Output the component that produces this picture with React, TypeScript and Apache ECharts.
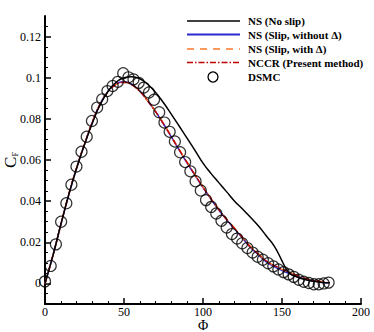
import React, { useEffect, useRef } from "react";
import * as echarts from "echarts";

const phiLines = [0, 5, 10, 15, 20, 25, 30, 35, 40, 45, 50, 55, 60, 65, 70, 75, 80, 85, 90, 95, 100, 105, 110, 115, 120, 125, 130, 135, 140, 145, 150, 155, 160, 165, 170, 175, 180];
const cfSlipNoDelta = [0, 0.0135, 0.0285, 0.043, 0.056, 0.0675, 0.0785, 0.0875, 0.0935, 0.0972, 0.098, 0.0968, 0.0935, 0.0888, 0.0835, 0.0775, 0.0712, 0.0648, 0.0585, 0.0525, 0.0466, 0.041, 0.0357, 0.0309, 0.0265, 0.022, 0.0175, 0.014, 0.0105, 0.0082, 0.0063, 0.0047, 0.0032, 0.002, 0.0012, 0.0006, 0.0003];
const cfSlipDelta = [0, 0.0135, 0.0285, 0.0432, 0.0562, 0.0677, 0.0785, 0.0873, 0.0932, 0.0968, 0.0978, 0.0966, 0.0934, 0.0888, 0.0836, 0.0777, 0.0714, 0.065, 0.0588, 0.0528, 0.0469, 0.0413, 0.036, 0.0312, 0.0268, 0.0224, 0.0179, 0.0144, 0.011, 0.0087, 0.0068, 0.0052, 0.0036, 0.0023, 0.0014, 0.0008, 0.0004];
const cfNccr = [0, 0.0136, 0.0287, 0.0433, 0.0563, 0.0678, 0.0786, 0.0873, 0.0931, 0.0967, 0.0977, 0.0965, 0.0933, 0.0887, 0.0835, 0.0776, 0.0713, 0.0649, 0.0587, 0.0527, 0.0468, 0.0412, 0.0359, 0.0311, 0.0267, 0.0223, 0.0178, 0.0143, 0.011, 0.0088, 0.007, 0.0054, 0.0038, 0.0024, 0.0015, 0.0008, 0.0004];

const phiNoSlip = [0, 5, 10, 15, 20, 25, 30, 35, 40, 45, 50, 55, 60, 65, 70, 75, 80, 85, 90, 95, 100, 105, 110, 115, 120, 125, 130, 135, 140, 145, 150, 152.5, 155, 160, 165, 170, 175, 180];
const cfNoSlip = [0, 0.0135, 0.0285, 0.043, 0.056, 0.0675, 0.078, 0.087, 0.0935, 0.0978, 0.1, 0.1005, 0.0995, 0.0968, 0.0928, 0.0878, 0.0822, 0.0764, 0.0705, 0.0646, 0.0585, 0.0535, 0.049, 0.0445, 0.04, 0.0362, 0.0322, 0.028, 0.0232, 0.0183, 0.011, 0.0072, 0.0048, 0.003, 0.0018, 0.001, 0.0005, 0.0003];

const phiDsmc = [0, 3.6, 6.9, 10.2, 13.5, 16.7, 19.9, 23.1, 26.4, 29.7, 33.0, 36.2, 39.5, 42.8, 46.1, 49.5, 52.8, 56.0, 59.3, 62.5, 65.8, 69.0, 72.3, 75.6, 78.9, 82.2, 85.5, 88.7, 92.0, 95.3, 98.6, 101.9, 105.2, 108.4, 111.7, 115.0, 118.3, 121.6, 124.8, 128.1, 131.4, 134.6, 137.9, 141.2, 144.5, 147.7, 151.0, 154.2, 157.4, 160.6, 163.8, 167.0, 170.2, 173.3, 176.4, 179.5];
const cfDsmc = [0.001, 0.0085, 0.019, 0.030, 0.039, 0.048, 0.0568, 0.064, 0.0713, 0.079, 0.0855, 0.0895, 0.0935, 0.096, 0.098, 0.1022, 0.1002, 0.0992, 0.0975, 0.0952, 0.0928, 0.0893, 0.0832, 0.0782, 0.0737, 0.069, 0.0638, 0.059, 0.0545, 0.0497, 0.0452, 0.0405, 0.0372, 0.034, 0.0305, 0.0272, 0.024, 0.0218, 0.0195, 0.0172, 0.015, 0.013, 0.0115, 0.0098, 0.0083, 0.0068, 0.0055, 0.0044, 0.0032, 0.0018, 0.0008, 0.0002, -0.0004, -0.0004, 0.0, 0.0004];

const yMajorTicks = [0, 0.02, 0.04, 0.06, 0.08, 0.1, 0.12];
const yMinorTicks = [-0.005, 0.005, 0.01, 0.015, 0.025, 0.03, 0.035, 0.045, 0.05, 0.055, 0.065, 0.07, 0.075, 0.085, 0.09, 0.095, 0.105, 0.11, 0.115, 0.125];

const legendNames = ["NS (No slip)", "NS (Slip, without Δ)", "NS (Slip, with Δ)", "NCCR (Present method)", "DSMC"];

const FONT = "'Liberation Serif', 'Times New Roman', serif";

function pairs(xs: number[], ys: number[]) {
  return xs.map((x, i) => [x, ys[i]]);
}

export default function App() {
  const ref = useRef<HTMLDivElement>(null);
  useEffect(() => {
    if (!ref.current) return;
    const chart = echarts.init(ref.current, null, { renderer: "svg" });
    const legendStyles = [
      { stroke: "#000000", dash: null as any, width: 1.6 },
      { stroke: "#2a2ad0", dash: null as any, width: 1.8 },
      { stroke: "#ff7a2a", dash: [7, 6], width: 1.6 },
      { stroke: "#c00000", dash: [6, 2, 1.5, 2], width: 1.6 },
    ];
    const rowsY = [21, 34.5, 49, 62.5, 77];
    const graphics: any[] = [];
    legendNames.forEach((name, i) => {
      if (i < 4) {
        const s = legendStyles[i];
        graphics.push({
          type: "line",
          shape: { x1: 187, y1: rowsY[i], x2: 240, y2: rowsY[i] },
          style: { stroke: s.stroke, lineWidth: s.width, lineDash: s.dash || undefined },
        });
      } else {
        graphics.push({
          type: "circle",
          shape: { cx: 213, cy: rowsY[i], r: 5 },
          style: { fill: "none", stroke: "#000", lineWidth: 1.3 },
        });
      }
      graphics.push({
        type: "text",
        x: 248,
        y: rowsY[i],
        style: {
          text: name,
          fontFamily: FONT,
          fontSize: 11,
          fontWeight: "bold",
          verticalAlign: "middle",
          fill: "#000",
        },
      });
    });

    chart.setOption({
      animation: false,
      backgroundColor: "#ffffff",
      grid: { left: 45, right: 13, top: 16, bottom: 28, containLabel: false, outerBoundsMode: "none" },
      xAxis: {
        type: "value",
        min: 0,
        max: 200,
        interval: 50,
        name: "Φ",
        nameLocation: "middle",
        nameGap: 14,
        nameMoveOverlap: false,
        nameTextStyle: { fontFamily: FONT, fontSize: 14, color: "#000" },
        axisLine: { show: true, onZero: false, lineStyle: { color: "#000", width: 2 } },
        axisTick: { show: true, inside: true, length: 6, lineStyle: { color: "#000", width: 1.5 } },
        minorTick: { show: true, splitNumber: 5, length: 3, lineStyle: { color: "#000", width: 1 } },
        axisLabel: { fontFamily: FONT, fontSize: 12, color: "#000", margin: 2 },
        splitLine: { show: false },
      },
      yAxis: [
        {
          type: "value",
          min: -0.01,
          max: 0.13,
          name: "{c|C}{s|F}",
          nameLocation: "middle",
          nameGap: 26,
          nameMoveOverlap: false,
          nameRotate: 90,
          nameTextStyle: {
            color: "#000",
            rich: {
              c: { fontFamily: FONT, fontSize: 17, color: "#000", lineHeight: 18 },
              s: { fontFamily: FONT, fontSize: 8, color: "#000", lineHeight: 18, verticalAlign: "bottom" },
            },
          },
          axisLine: { show: true, onZero: false, lineStyle: { color: "#000", width: 2 } },
          axisTick: { show: true, inside: true, length: 6, customValues: yMajorTicks, lineStyle: { color: "#000", width: 1.5 } },
          axisLabel: {
            customValues: yMajorTicks,
            fontFamily: FONT,
            fontSize: 12,
            color: "#000",
            margin: 4,
            formatter: (v: number) => String(v),
          },
          splitLine: { show: false },
        },
        {
          type: "value",
          min: -0.01,
          max: 0.13,
          position: "left",
          axisLine: { show: false },
          axisTick: { show: true, inside: true, length: 3, customValues: yMinorTicks, lineStyle: { color: "#000", width: 1 } },
          axisLabel: { show: false },
          splitLine: { show: false },
        },
      ],
      graphic: graphics,
      series: [
        {
          name: legendNames[1],
          type: "line",
          data: pairs(phiLines, cfSlipNoDelta),
          symbol: "none",
          smooth: true,
          lineStyle: { color: "#2a2ad0", width: 1.5 },
          z: 2,
        },
        {
          name: legendNames[2],
          type: "line",
          data: pairs(phiLines, cfSlipDelta),
          symbol: "none",
          smooth: true,
          lineStyle: { color: "#ff7a2a", width: 1.5, type: [7, 6] },
          z: 3,
        },
        {
          name: legendNames[3],
          type: "line",
          data: pairs(phiLines, cfNccr),
          symbol: "none",
          smooth: true,
          lineStyle: { color: "#c00000", width: 1.4, type: [6, 2, 1.5, 2] },
          z: 4,
        },
        {
          name: legendNames[0],
          type: "line",
          data: pairs(phiNoSlip, cfNoSlip),
          symbol: "none",
          smooth: true,
          lineStyle: { color: "#000", width: 1.5 },
          z: 5,
        },
        {
          name: legendNames[4],
          type: "scatter",
          data: pairs(phiDsmc, cfDsmc),
          symbol: "circle",
          symbolSize: 11,
          itemStyle: { color: "transparent", borderColor: "#000", borderWidth: 1.2 },
          z: 6,
        },
      ],
    });
    return () => chart.dispose();
  }, []);
  return <div ref={ref} style={{ position: "fixed", left: 0, top: 0, width: 374, height: 332 }} />;
}
